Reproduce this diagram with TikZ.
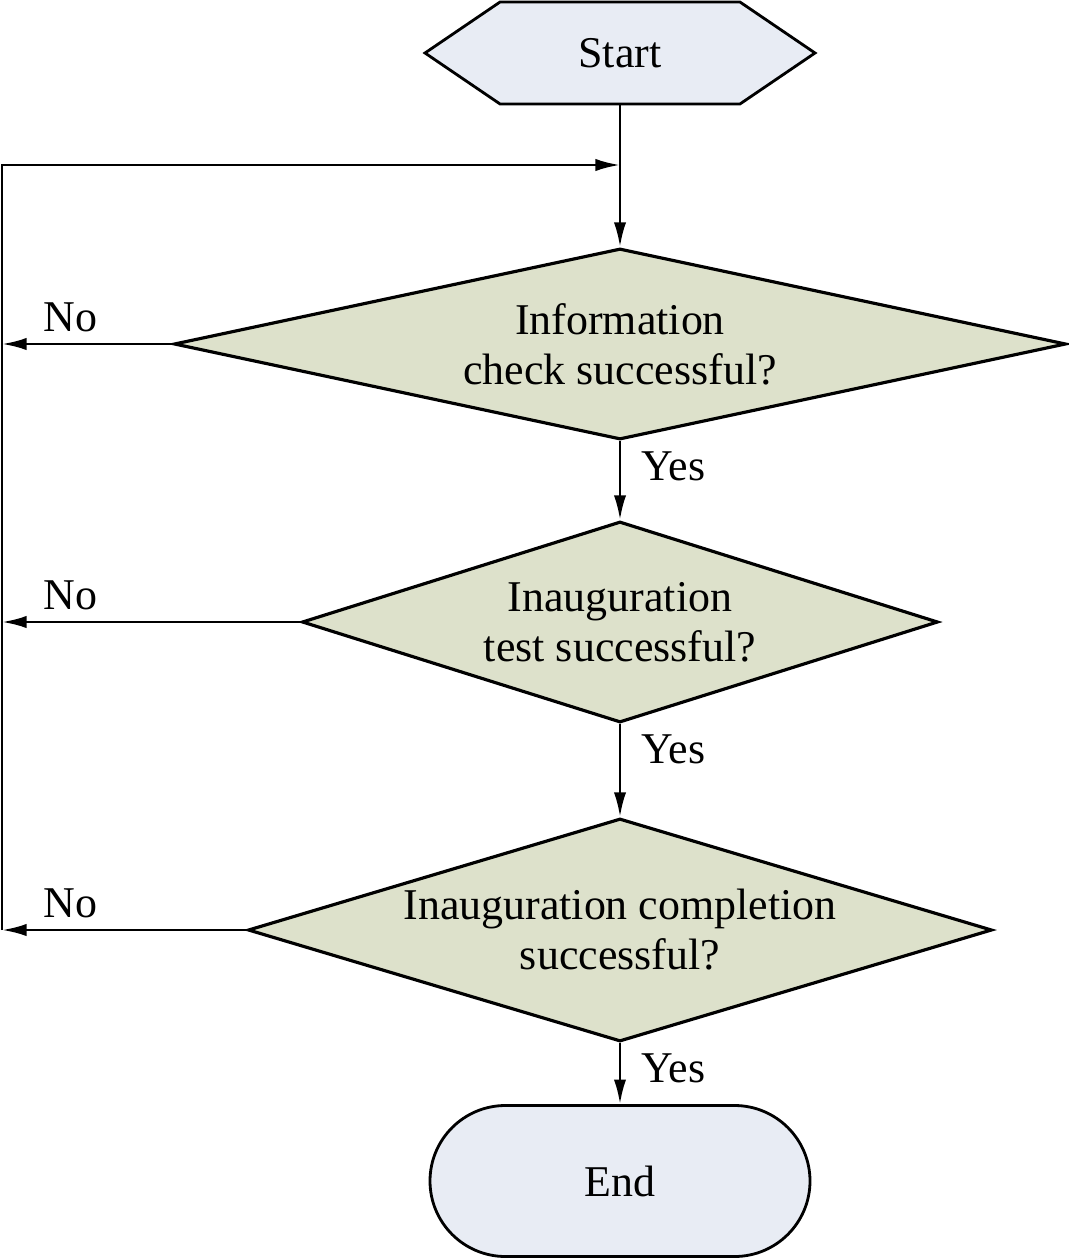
\documentclass[tikz,border=0pt]{standalone}
\usepackage{fontspec}
\setmainfont{Liberation Serif}
\usetikzlibrary{arrows.meta,shapes.geometric,shapes.misc,shapes.symbols}
\definecolor{termfill}{RGB}{232,236,244}
\definecolor{decfill}{RGB}{221,225,203}
\tikzset{
	decision/.style={draw, line width=1.8pt, fill=decfill, shape=diamond, inner sep=-2pt, align=center},
	terminal/.style={draw, line width=1.6pt, fill=termfill, inner sep=0pt, align=center},
	flow/.style={line width=1.5pt, -{Latex[length=14pt,width=7pt]}},
	nolabel/.style={anchor=south west, inner sep=0pt, xshift=0.8cm, yshift=0.22cm},
	yeslabel/.style={anchor=north west, inner sep=0pt, xshift=0.4cm, yshift=-0.18cm}
}

\begin{document}
\begin{tikzpicture}[font=\fontsize{25}{28.45}\selectfont]
	\useasboundingbox (0,0) rectangle (21.36,-25.18);

		\node (start) at (12.4,-1.06) [terminal, shape=signal, signal to=east and west, signal pointer angle=68.4, minimum width=7.8cm, minimum height=2.04cm] {Start};
		\node (d1) at (12.4,-6.88) [decision, aspect=4.67, minimum width=17.84cm, minimum height=3.82cm] {Information\\check successful?};
		\node (d2) at (12.4,-12.44) [decision, aspect=3.16, minimum width=12.72cm, minimum height=4.02cm] {Inauguration\\test successful?};
		\node (d3) at (12.4,-18.6) [decision, aspect=3.34, minimum width=14.88cm, minimum height=4.46cm] {Inauguration completion\\successful?};
		\node (end) at (12.4,-23.62) [terminal, shape=rounded rectangle, minimum width=7.6cm, minimum height=3.02cm] {End};
		
		% loop back to the top
		\coordinate (back) at (0.04,-3.3);
		\coordinate (merge) at (12.4,-3.3);
		
		\draw[flow] (start.south) -- (d1.north);
		\draw[flow] (d1.south) -- (d2.north) node[yeslabel, pos=0] {Yes};
		\draw[flow] (d2.south) -- (d3.north) node[yeslabel, pos=0] {Yes};
		\draw[flow] (d3.south) -- (end.north) node[yeslabel, pos=0] {Yes};
		
		\draw[flow] (d1.west) -- (d1.west -| back) node[nolabel] {No};
		\draw[flow] (d2.west) -- (d2.west -| back) node[nolabel] {No};
		\draw[flow] (d3.west) -- (d3.west -| back) node[nolabel] {No};
		\draw[flow] (d3.west -| back) -- (back) -- (merge);
		
\end{tikzpicture}
\end{document}
